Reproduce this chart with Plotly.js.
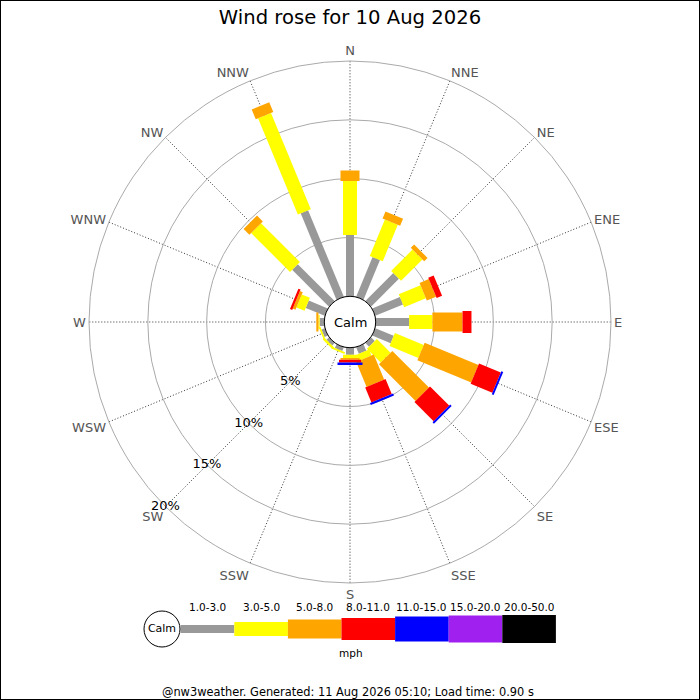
<!DOCTYPE html>
<html>
<head>
<meta charset="utf-8">
<script src="https://cdn.plot.ly/plotly-3.0.1.min.js"></script>
<style>
  html, body { margin: 0; padding: 0; background: #fff; }
  #wrap { position: relative; width: 700px; height: 700px; }
  #plot { width: 700px; height: 700px; }
  #frame { position: absolute; left: 0; top: 0; width: 700px; height: 700px; box-sizing: border-box; border: 1px solid #000; pointer-events: none; }
</style>
</head>
<body>
<div id="wrap"><div id="plot"></div><div id="frame"></div></div>
<script>
// ---- data ----
const directions = ["N","NNE","NE","ENE","E","ESE","SE","SSE","S","SSW","SW","WSW","W","WNW","NW","NNW"];
const speedBins = ["1.0-3.0","3.0-5.0","5.0-8.0","8.0-11.0","11.0-15.0","15.0-20.0","20.0-50.0"];
// percentage frequency per direction for each speed bin
const bin1to3   = [5.2, 3.65, 3.36, 2.55, 2.84, 1.7, 0.45, 0.6, 0.6, 0.35, 0.3, 0.3, 0.4, 1.75, 4.43, 7.95];
const bin3to5   = [4.6, 3.35, 2.57, 2.0, 1.98, 2.65, 1.65, 0.55, 0.28, 0.15, 0.2, 0.15, 0.1, 0.75, 4.67, 8.85];
const bin5to8   = [0.9, 0.65, 0.4, 0.85, 2.56, 4.95, 4.4, 2.3, 0.14, 0, 0, 0, 0.18, 0.25, 0.7, 0.9];
const bin8to11  = [0, 0, 0, 0.5, 0.76, 2.0, 2.3, 1.38, 0.23, 0, 0, 0, 0, 0.2, 0, 0];
const bin11to15 = [0, 0, 0, 0, 0, 0.17, 0.17, 0.18, 0.22, 0, 0, 0, 0, 0, 0, 0];
const bin15to20 = [0, 0, 0, 0, 0, 0, 0, 0, 0, 0, 0, 0, 0, 0, 0, 0];
const bin20to50 = [0, 0, 0, 0, 0, 0, 0, 0, 0, 0, 0, 0, 0, 0, 0, 0];
const radialTicks = [5, 10, 15, 20];
const radialTickLabels = ["5%", "10%", "15%", "20%"];
const titleText = "Wind rose for 10 Aug 2026";
const footerText = "@nw3weather. Generated: 11 Aug 2026 05:10; Load time: 0.90 s";
const unitText = "mph";
const calmText = "Calm";

// ---- styles ----
const binColors = ["#999999", "#ffff00", "#ffa500", "#ff0000", "#0000ff", "#a020f0", "#000000"];
const binWidths = [8, 14, 19, 22, 25, 27, 28];
const FONT = "DejaVu Sans, Verdana, sans-serif";

const series = [bin1to3, bin3to5, bin5to8, bin8to11, bin11to15, bin15to20, bin20to50];

const traces = [];
// cumulative stacking along each direction
const cum = directions.map(() => 0);
series.forEach((vals, b) => {
  const r = [], th = [];
  vals.forEach((v, d) => {
    const start = cum[d];
    const end = start + v;
    cum[d] = end;
    if (v > 0) {
      r.push(start, end, null);
      th.push(directions[d], directions[d], directions[d]);
    }
  });
  traces.push({
    type: "scatterpolar", mode: "lines", r: r, theta: th,
    line: { color: binColors[b], width: binWidths[b] },
    connectgaps: false, hoverinfo: "skip", showlegend: false, cliponaxis: false
  });
});

// radial labels along SW spoke
traces.push({
  type: "scatterpolar", mode: "text",
  r: radialTicks, theta: radialTicks.map(() => "SW"),
  text: radialTickLabels,
  textposition: "middle center",
  textfont: { family: FONT, size: 13, color: "#000" },
  hoverinfo: "skip", showlegend: false, cliponaxis: false
});

// ---- legend (cartesian strip at bottom) ----
const legUnit = 53.6;       // px per legend cell
const legStartPx = 180.7;   // left edge of first cell
const legDomPx = [140, 560];
const legRange = [(legDomPx[0] - legStartPx) / legUnit, (legDomPx[1] - legStartPx) / legUnit];
speedBins.forEach((lab, i) => {
  traces.push({
    type: "scatter", mode: "lines", x: [i, i + 1], y: [0, 0],
    xaxis: "x", yaxis: "y",
    line: { color: binColors[i], width: binWidths[i] },
    hoverinfo: "skip", showlegend: false, cliponaxis: false
  });
});
traces.push({
  type: "scatter", mode: "markers+text", x: [(162 - legStartPx) / legUnit], y: [0],
  xaxis: "x", yaxis: "y",
  marker: { size: 36, color: "#fff", line: { color: "#000", width: 1 } },
  text: [calmText], textposition: "middle center",
  textfont: { family: FONT, size: 11, color: "#000" },
  hoverinfo: "skip", showlegend: false, cliponaxis: false
});

const annotations = speedBins.map((lab, i) => ({
  xref: "x", yref: "y", x: i + 0.5, y: 0.743, text: lab, showarrow: false,
  xanchor: "center", yanchor: "middle",
  font: { family: FONT, size: 10.5, color: "#000" }
}));
annotations.push({
  xref: "paper", yref: "paper", x: 351 / 700, y: 1 - 653 / 700, text: unitText, showarrow: false,
  xanchor: "center", yanchor: "middle",
  font: { family: FONT, size: 10.5, color: "#000" }
});
annotations.push({
  xref: "paper", yref: "paper", x: 348 / 700, y: 1 - 692 / 700, text: footerText, showarrow: false,
  xanchor: "center", yanchor: "middle",
  font: { family: FONT, size: 11.4, color: "#000" }
});
annotations.push({
  xref: "paper", yref: "paper", x: 0.5, y: 1 - 322 / 700, text: calmText, showarrow: false,
  xanchor: "center", yanchor: "middle",
  font: { family: FONT, size: 13, color: "#000" }
});

const cR = 25.7 / 700, cx = 0.5, cy = 1 - 322 / 700;

const layout = {
  width: 700, height: 700,
  margin: { l: 0, r: 0, t: 0, b: 0 },
  paper_bgcolor: "#fff",
  showlegend: false,
  title: {
    text: titleText, x: 0.5, xanchor: "center", y: 1 - 17 / 700, yanchor: "middle",
    font: { family: FONT, size: 19.6, color: "#000" }
  },
  font: { family: FONT },
  polar: {
    domain: { x: [89 / 700, 611 / 700], y: [1 - 583 / 700, 1 - 61 / 700] },
    hole: 25.7 / 261,
    bgcolor: "#fff",
    angularaxis: {
      type: "category", categoryarray: directions,
      direction: "clockwise", rotation: 90,
      showline: true, linecolor: "#aaaaaa", linewidth: 1,
      showgrid: true, gridcolor: "#333333", griddash: "1px,2px", gridwidth: 1,
      ticks: "", tickfont: { family: FONT, size: 13, color: "#555555" },
      layer: "below traces"
    },
    radialaxis: {
      range: [0, 20], tickvals: radialTicks, showticklabels: false,
      showline: false, ticks: "", angle: 225,
      showgrid: true, gridcolor: "#aaaaaa", gridwidth: 1,
      layer: "below traces"
    }
  },
  xaxis: { domain: [legDomPx[0] / 700, legDomPx[1] / 700], range: legRange, visible: false, fixedrange: true },
  yaxis: { domain: [1 - 659 / 700, 1 - 599 / 700], range: [-1, 1], visible: false, fixedrange: true },
  shapes: [{
    type: "circle", xref: "paper", yref: "paper",
    x0: cx - cR, x1: cx + cR, y0: cy - cR, y1: cy + cR,
    fillcolor: "#fff", line: { color: "#000", width: 1 }, layer: "above"
  }],
  annotations: annotations
};

Plotly.newPlot("plot", traces, layout, { staticPlot: true, displayModeBar: false });
</script>
</body>
</html>
